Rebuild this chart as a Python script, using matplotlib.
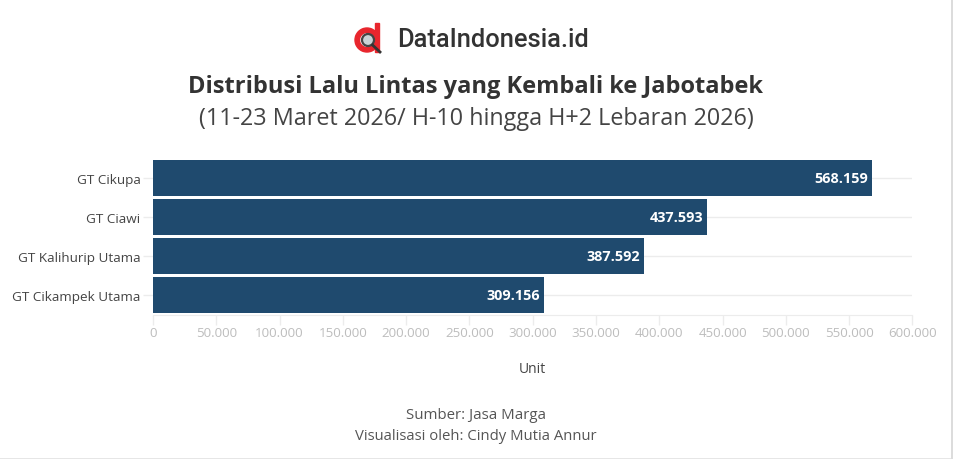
import matplotlib
matplotlib.use("Agg")
import matplotlib.pyplot as plt
from matplotlib.patches import Circle, Rectangle, Wedge

categories = ["GT Cikupa", "GT Ciawi", "GT Kalihurip Utama", "GT Cikampek Utama"]
values = [568159, 437593, 387592, 309156]
xticks = [0, 50000, 100000, 150000, 200000, 250000, 300000, 350000, 400000,
          450000, 500000, 550000, 600000]

W, H = 954, 460
BAR = "#1f4a6e"
GRID = "#ececec"
plt.rcParams["font.family"] = ["Open Sans", "DejaVu Sans"]


def fmt(v):
    return f"{v:,}".replace(",", ".")


fig = plt.figure(figsize=(W / 100, H / 100), dpi=100, facecolor="white")

# plot area, in pixels from the top left
left, right, top, bottom = 153, 912.5, 159.5, 315.5
ax = fig.add_axes([left / W, 1 - bottom / H, (right - left) / W, (bottom - top) / H])
ypos = range(len(categories))
ax.barh(ypos, values, height=0.92, color=BAR, zorder=3)
ax.set_xlim(0, 600000)
ax.set_ylim(3.5, -0.5)
ax.set_yticks(list(ypos))
ax.set_yticklabels(categories, fontsize=9.7, color="#444444")
ax.set_xticks(xticks)
ax.set_xticklabels([fmt(t) for t in xticks], fontsize=9.6, color="#bdbdbd")
ax.tick_params(axis="y", length=7, color=GRID, width=1, pad=2)
ax.tick_params(axis="x", length=7, color=GRID, width=1, pad=1)
ax.grid(axis="y", color=GRID, linewidth=1, zorder=0)
for s in ["top", "right", "left"]:
    ax.spines[s].set_visible(False)
ax.spines["bottom"].set_color(GRID)
ax.set_axisbelow(True)

for i, v in enumerate(values):
    ax.text(v - 3000, i, fmt(v), ha="right", va="center", fontsize=10.4,
            fontweight="bold", color="white", zorder=4)

# full figure overlay in pixel coordinates for text and logo
ov = fig.add_axes([0, 0, 1, 1], facecolor="none")
ov.set_xlim(0, W)
ov.set_ylim(H, 0)
ov.axis("off")

ov.text(532.5, 370, "Unit", ha="center", va="center", fontsize=10, color="#444444")
ov.text(397, 40, "DataIndonesia.id", ha="left", va="center", fontsize=18.4,
        fontweight="medium", family=["Roboto", "DejaVu Sans"], color="#333333")
ov.text(476, 87, "Distribusi Lalu Lintas yang Kembali ke Jabotabek", ha="center",
        va="center", fontsize=17.05, fontweight="bold", color="#333333")
ov.text(476, 119, "(11-23 Maret 2026/ H-10 hingga H+2 Lebaran 2026)", ha="center",
        va="center", fontsize=16.85, color="#444444")
ov.text(476, 416, "Sumber: Jasa Marga", ha="center", va="center", fontsize=10.8,
        color="#555555")
ov.text(476, 437, "Visualisasi oleh: Cindy Mutia Annur", ha="center", va="center",
        fontsize=10.7, color="#555555")

# logo
ov.add_patch(Wedge((367, 41), 12, 0, 360, width=4.5, color="#e8262d"))
ov.add_patch(Rectangle((375, 24), 4.5, 29, color="#e8262d"))
ov.add_patch(Circle((368, 41), 6, facecolor="#c9d3d6", edgecolor="#444444", linewidth=1.6))
ov.plot([372.5, 380], [46, 53], color="#333333", linewidth=2)

# page edge
ov.add_patch(Rectangle((951, 0), 3, H, color="#dcdcdc", linewidth=0))
ov.add_patch(Rectangle((0, 458.5), 951, 1.5, color="#e6e6e6", linewidth=0))

fig.savefig("out.png", dpi=100)
